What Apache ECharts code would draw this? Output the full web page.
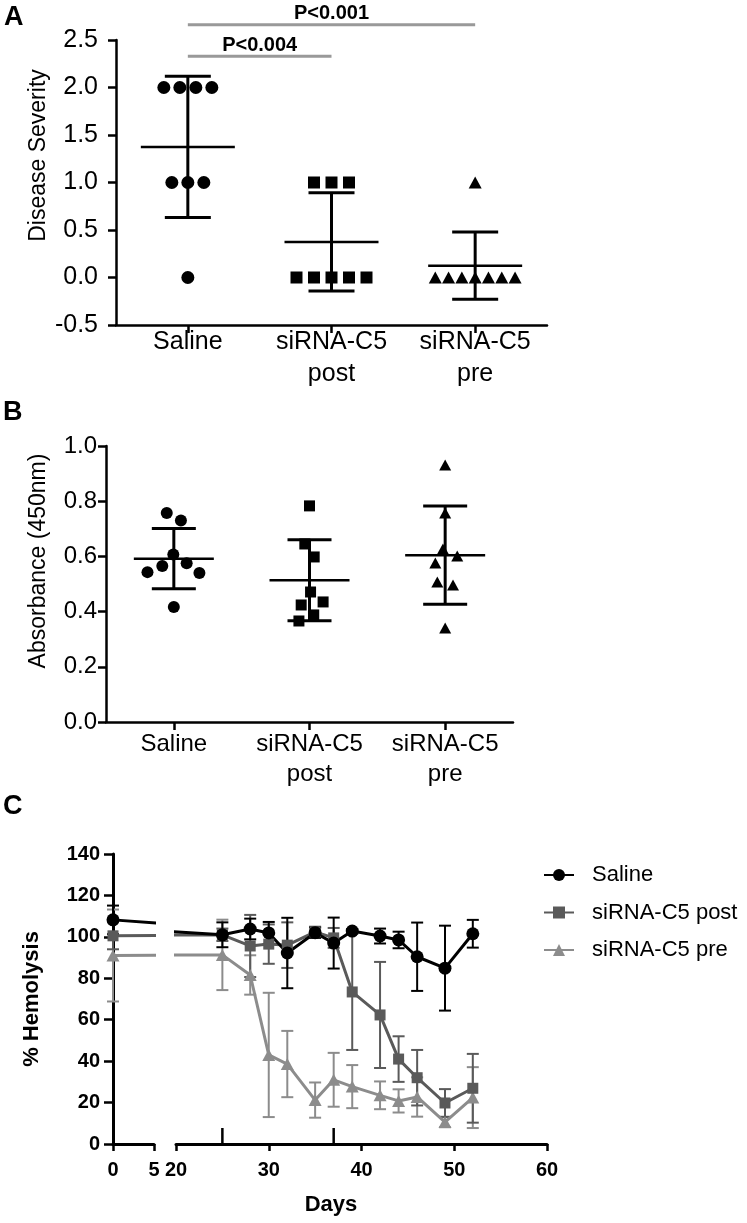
<!DOCTYPE html>
<html><head><meta charset="utf-8">
<script src="https://cdn.jsdelivr.net/npm/echarts@6/dist/echarts.min.js"></script>
<style>html,body{margin:0;padding:0;background:#fff}#chart{width:747px;height:1223px}</style>
</head><body><div id="chart"></div>
<script>
// ---------- Panel A : disease severity ----------
const groupLabels = ['Saline', 'siRNA-C5\npost', 'siRNA-C5\npre'];
const severitySaline = [2, 2, 2, 2, 1, 1, 1, 0];
const severityPost = [1, 1, 1, 0, 0, 0, 0, 0];
const severityPre = [1, 0, 0, 0, 0, 0, 0, 0];
const bracketFrom = [0, 0];
const bracketTo = [2, 1];
const bracketY = [2.66, 2.33];
const bracketText = ['P<0.001', 'P<0.004'];

// ---------- Panel B : absorbance ----------
const absSaline = [0.757, 0.730, 0.607, 0.575, 0.565, 0.543, 0.540, 0.417];
const absPost = [0.783, 0.645, 0.598, 0.471, 0.435, 0.424, 0.388, 0.366];
const absPre = [0.931, 0.757, 0.627, 0.601, 0.576, 0.507, 0.496, 0.341];

// ---------- Panel C : % hemolysis ----------
const days = [0, 25, 28, 30, 32, 35, 37, 39, 42, 44, 46, 49, 52];
const hemoSaline = [108.2, 101.0, 103.8, 101.9, 92.2, 102.0, 97.0, 102.8, 100.4, 98.5, 90.4, 84.9, 101.5];
const hemoSalineSD = [6.9, 6.0, 5.0, 5.3, 17.0, 2.5, 12.3, 1.0, 3.6, 4.0, 16.5, 20.5, 6.7];
const hemoPost = [100.5, 101.0, 95.6, 96.5, 96.0, 102.4, 99.5, 73.4, 62.3, 41.0, 32.0, 19.8, 26.9];
const hemoPostSD = [6.5, 3.0, 15.0, 9.5, 11.0, 2.5, 4.8, 28.0, 25.6, 11.0, 13.4, 6.7, 16.6];
const hemoPre = [91.0, 91.3, 81.6, 43.0, 38.6, 21.2, 31.0, 27.7, 23.5, 20.8, 22.7, 10.6, 22.4];
const hemoPreSD = [22.2, 17.0, 9.5, 30.0, 16.0, 8.5, 13.0, 10.4, 6.7, 5.6, 9.5, 2.5, 14.7];
const injectionDays = [25, 37];
const legendNames = ['Saline', 'siRNA-C5 post', 'siRNA-C5 pre'];

// ---------- layout / style ----------
const FONT = 'Liberation Sans';
const G = {
  A: {left: 116, top: 40, width: 431, height: 285},
  B: {left: 106, top: 446, width: 407, height: 276},
  C1: {left: 113, top: 854, width: 41, height: 290},
  C2: {left: 176, top: 854, width: 371, height: 290}
};
const A_MIN = -0.5, A_MAX = 2.5, B_MIN = 0, B_MAX = 1;

function mean(a) { return a.reduce((s, v) => s + v, 0) / a.length; }
function sd(a) { const m = mean(a); return Math.sqrt(a.reduce((s, v) => s + (v - m) * (v - m), 0) / (a.length - 1)); }

// beeswarm offsets (pixels) for one column of points
function swarm(vals, pxPerUnit, d) {
  const order = vals.map((v, i) => i).sort((a, b) => vals[b] - vals[a]);
  const placed = [], xs = new Array(vals.length);
  for (const i of order) {
    const y = vals[i] * pxPerUnit;
    const cands = [0];
    placed.forEach(p => {
      const dy = Math.abs(y - p.y);
      if (dy < d) { const w = Math.sqrt(d * d - dy * dy); cands.push(p.x + w, p.x - w); }
    });
    const ok = cands.filter(c => placed.every(p => Math.hypot(c - p.x, y - p.y) >= d - 1e-6));
    ok.sort((a, b) => Math.abs(Math.abs(a) - Math.abs(b)) > 1e-6 ? Math.abs(a) - Math.abs(b) : b - a);
    xs[i] = ok[0];
    placed.push({x: ok[0], y: y});
  }
  // centre each touching cluster
  let comp = [order[0]];
  const comps = [comp];
  for (let k = 1; k < order.length; k++) {
    if ((vals[order[k - 1]] - vals[order[k]]) * pxPerUnit < d) comp.push(order[k]);
    else { comp = [order[k]]; comps.push(comp); }
  }
  comps.forEach(c => { const m = mean(c.map(i => xs[i])); c.forEach(i => { xs[i] -= m; }); });
  return xs;
}

function scatterSeries(idx, group, vals, pxPerUnit, d, symbol, size) {
  const xs = swarm(vals, pxPerUnit, d);
  return {
    type: 'scatter', name: 'pt' + idx + '_' + group, xAxisIndex: idx, yAxisIndex: idx,
    symbol: symbol, symbolSize: size, itemStyle: {color: '#000', opacity: 1}, z: 3,
    data: vals.map((v, i) => ({value: [group, v], symbolOffset: [xs[i], 0]}))
  };
}

function statsSeries(idx, groups, hw, cw) {
  return {
    type: 'custom', xAxisIndex: idx, yAxisIndex: idx, z: 4,
    data: groups.map((g, i) => [i, mean(g), sd(g)]),
    renderItem: (params, api) => {
      const x = api.value(0), m = api.value(1), s = api.value(2);
      const pm = api.coord([x, m]), pt = api.coord([x, m + s]), pb = api.coord([x, m - s]);
      const st = {stroke: '#000', lineWidth: 3};
      return {type: 'group', children: [
        {type: 'line', shape: {x1: pm[0] - hw, y1: pm[1], x2: pm[0] + hw, y2: pm[1]}, style: {stroke: '#000', lineWidth: 2.5}},
        {type: 'line', shape: {x1: pt[0], y1: pt[1], x2: pb[0], y2: pb[1]}, style: st},
        {type: 'line', shape: {x1: pt[0] - cw, y1: pt[1], x2: pt[0] + cw, y2: pt[1]}, style: st},
        {type: 'line', shape: {x1: pb[0] - cw, y1: pb[1], x2: pb[0] + cw, y2: pb[1]}, style: st}
      ]};
    }
  };
}

function errSeries(idx, vals, sds, color, width, keep) {
  const data = [];
  days.forEach((d, i) => { if (keep(d)) data.push([d, vals[i], sds[i]]); });
  return {
    type: 'custom', xAxisIndex: idx, yAxisIndex: idx,
    data: data,
    renderItem: (params, api) => {
      const x = api.value(0), m = api.value(1), s = api.value(2);
      const pt = api.coord([x, m + s]), pb = api.coord([x, m - s]);
      const st = {stroke: color, lineWidth: width};
      return {type: 'group', children: [
        {type: 'line', shape: {x1: pt[0], y1: pt[1], x2: pb[0], y2: pb[1]}, style: st},
        {type: 'line', shape: {x1: pt[0] - 6, y1: pt[1], x2: pt[0] + 6, y2: pt[1]}, style: st},
        {type: 'line', shape: {x1: pb[0] - 6, y1: pb[1], x2: pb[0] + 6, y2: pb[1]}, style: st}
      ]};
    }
  };
}

function lineSeries(idx, name, vals, color, symbol, size) {
  return {
    type: 'line', name: name, xAxisIndex: idx, yAxisIndex: idx, clip: true,
    data: days.map((d, i) => [d, vals[i]]),
    symbol: symbol, symbolSize: size, showAllSymbol: true,
    lineStyle: {color: color, width: 3}, itemStyle: {color: color, opacity: 1}
  };
}

function catX(idx, fs, lh, margin) {
  return {
    gridIndex: idx, type: 'category', data: groupLabels, boundaryGap: true,
    axisLine: {show: true, onZero: false, lineStyle: {color: '#000', width: 2.5}},
    axisTick: {show: true, alignWithLabel: true, length: 8, lineStyle: {color: '#000', width: 2.5}},
    axisLabel: {interval: 0, fontSize: fs, lineHeight: lh, margin: margin, color: '#000', fontFamily: FONT},
    splitLine: {show: false}
  };
}
function valY(idx, min, max, interval, name, fs, margin, nameGap, shift) {
  return {
    gridIndex: idx, type: 'value', min: min, max: max, interval: interval,
    axisLine: {show: true, onZero: false, lineStyle: {color: '#000', width: 2.5}},
    axisTick: {show: true, length: 8, lineStyle: {color: '#000', width: 2.5}},
    axisLabel: {fontSize: fs, margin: margin, color: '#000', fontFamily: FONT, formatter: v => v.toFixed(1)},
    splitLine: {show: false},
    name: name, nameLocation: 'middle', nameGap: nameGap, nameMoveOverlap: false,
    nameTextStyle: {fontSize: 23, color: '#000', fontFamily: FONT, padding: [0, 0, 0, shift * 2]}
  };
}
const boldTick = {fontSize: 20, fontWeight: 'bold', color: '#000', fontFamily: FONT};

const option = {
  animation: false,
  backgroundColor: '#fff',
  textStyle: {fontFamily: FONT, color: '#000'},
  title: [
    {text: 'A', left: 4, top: 4, padding: 0, textStyle: {fontSize: 27, fontWeight: 'bold', color: '#000', fontFamily: FONT}},
    {text: 'B', left: 3, top: 399, padding: 0, textStyle: {fontSize: 27, fontWeight: 'bold', color: '#000', fontFamily: FONT}},
    {text: 'C', left: 3, top: 793, padding: 0, textStyle: {fontSize: 27, fontWeight: 'bold', color: '#000', fontFamily: FONT}}
  ],
  legend: {
    data: legendNames, orient: 'vertical', left: 543, top: 863, padding: 0,
    itemWidth: 30, itemHeight: 15, itemGap: 13.5,
    textStyle: {fontSize: 22, lineHeight: 24, color: '#000', fontFamily: FONT, padding: [0, 0, 0, 13]}
  },
  grid: [
    Object.assign({outerBoundsMode: 'none'}, G.A),
    Object.assign({outerBoundsMode: 'none'}, G.B),
    Object.assign({outerBoundsMode: 'none'}, G.C1),
    Object.assign({outerBoundsMode: 'none'}, G.C2)
  ],
  xAxis: [
    catX(0, 25, 32, 1),
    catX(1, 24, 30, 7),
    {
      gridIndex: 2, type: 'value', min: 0, max: 5, interval: 5,
      axisLine: {show: true, onZero: false, lineStyle: {color: '#000', width: 3}},
      axisTick: {show: true, length: 7, lineStyle: {color: '#000', width: 2.5}},
      axisLabel: Object.assign({margin: 16, showMinLabel: true, showMaxLabel: true}, boldTick),
      splitLine: {show: false}
    },
    {
      gridIndex: 3, type: 'value', min: 20, max: 60, interval: 10,
      axisLine: {show: true, onZero: false, lineStyle: {color: '#000', width: 3}},
      axisTick: {show: true, length: 7, lineStyle: {color: '#000', width: 2.5}},
      axisLabel: Object.assign({margin: 16, showMinLabel: true, showMaxLabel: true}, boldTick),
      splitLine: {show: false},
      name: 'Days', nameLocation: 'middle', nameGap: 50, nameMoveOverlap: false,
      nameTextStyle: {fontSize: 22, fontWeight: 'bold', color: '#000', fontFamily: FONT, padding: [0, 61, 0, 0]}
    }
  ],
  yAxis: [
    valY(0, A_MIN, A_MAX, 0.5, 'Disease Severity', 25, 18, 66, 27),
    valY(1, B_MIN, B_MAX, 0.2, 'Absorbance (450nm)', 24, 9, 56, 23),
    {
      gridIndex: 2, type: 'value', min: 0, max: 140, interval: 20,
      axisLine: {show: true, onZero: false, lineStyle: {color: '#000', width: 3}},
      axisTick: {show: true, length: 9, lineStyle: {color: '#000', width: 2.5}},
      axisLabel: Object.assign({margin: 13}, boldTick),
      splitLine: {show: false},
      name: '% Hemolysis', nameLocation: 'middle', nameGap: 70, nameMoveOverlap: false,
      nameTextStyle: {fontSize: 22, fontWeight: 'bold', color: '#000', fontFamily: FONT}
    },
    {gridIndex: 3, type: 'value', min: 0, max: 140, interval: 20, show: false}
  ],
  series: []
};

const pxA = G.A.height / (A_MAX - A_MIN);
const pxB = G.B.height / (B_MAX - B_MIN);
const S = option.series;
// Panel A
S.push(scatterSeries(0, 0, severitySaline, pxA, 16, 'circle', 13));
S.push(scatterSeries(0, 1, severityPost, pxA, 17.5, 'rect', 12));
S.push(scatterSeries(0, 2, severityPre, pxA, 13.3, 'triangle', [13, 12]));
S.push(statsSeries(0, [severitySaline, severityPost, severityPre], 47, 23));
S.push({
  type: 'custom', xAxisIndex: 0, yAxisIndex: 0, encode: {x: 0, y: 2}, z: 5,
  data: bracketFrom.map((f, i) => [f, bracketTo[i], bracketY[i]]),
  renderItem: (params, api) => {
    const a = api.coord([api.value(0), api.value(2)]);
    const b = api.coord([api.value(1), api.value(2)]);
    return {type: 'group', children: [
      {type: 'line', shape: {x1: a[0], y1: a[1], x2: b[0], y2: b[1]}, style: {stroke: '#999', lineWidth: 3}},
      {type: 'text', style: {text: bracketText[params.dataIndex], x: (a[0] + b[0]) / 2, y: a[1] - 1,
        align: 'center', verticalAlign: 'bottom', font: 'bold 20px "Liberation Sans"', fill: '#000'}}
    ]};
  }
});
// Panel B
S.push(scatterSeries(1, 0, absSaline, pxB, 16, 'circle', 12));
S.push(scatterSeries(1, 1, absPost, pxB, 16, 'rect', 11));
S.push(scatterSeries(1, 2, absPre, pxB, 16, 'triangle', [12, 11]));
S.push(statsSeries(1, [absSaline, absPost, absPre], 40, 22));
// Panel C (two grids for the broken axis)
const inFirst = d => d <= 5, inSecond = d => d >= 20;
[[2, inFirst], [3, inSecond]].forEach(([gi, keep]) => {
  S.push(errSeries(gi, hemoPre, hemoPreSD, '#8c8c8c', 2, keep));
  S.push(lineSeries(gi, 'siRNA-C5 pre', hemoPre, '#8c8c8c', 'triangle', [13, 12]));
  S.push(errSeries(gi, hemoPost, hemoPostSD, '#5a5a5a', 2, keep));
  S.push(lineSeries(gi, 'siRNA-C5 post', hemoPost, '#5a5a5a', 'rect', 11));
  S.push(errSeries(gi, hemoSaline, hemoSalineSD, '#000', 2, keep));
  S.push(lineSeries(gi, 'Saline', hemoSaline, '#000', 'circle', 13));
});
S.push({
  type: 'custom', xAxisIndex: 3, yAxisIndex: 3,
  data: injectionDays.map(d => [d, 0]),
  renderItem: (params, api) => {
    const p = api.coord([api.value(0), api.value(1)]);
    return {type: 'line', shape: {x1: p[0], y1: p[1], x2: p[0], y2: p[1] - 16}, style: {stroke: '#000', lineWidth: 2.5}};
  }
});

const chart = echarts.init(document.getElementById('chart'), null, {renderer: 'canvas'});
chart.setOption(option);
</script>
</body></html>
